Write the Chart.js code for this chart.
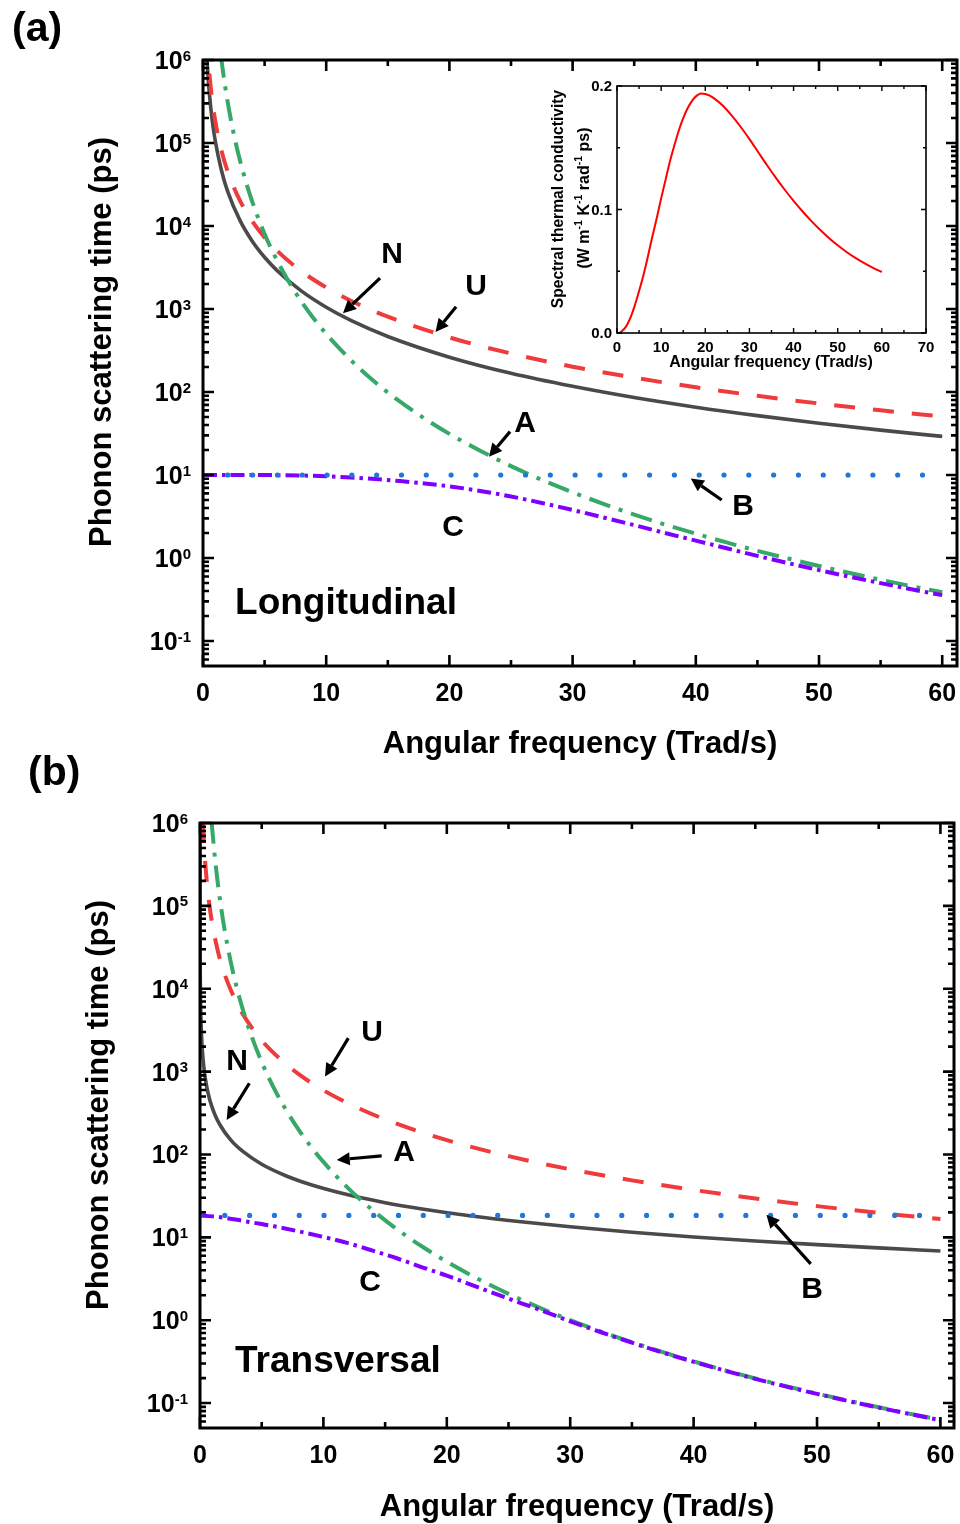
<!DOCTYPE html>
<html>
<head>
<meta charset="utf-8">
<script src="https://cdn.jsdelivr.net/npm/chart.js@4.4.1/dist/chart.umd.min.js"></script>
<style>
  html, body { margin: 0; padding: 0; background: #fff; }
  body { width: 960px; height: 1524px; position: relative; overflow: hidden; }
  canvas { position: absolute; }
  #longi { left: 0; top: 0; }
  #trans { left: 0; top: 740px; }
  #kappa { left: 530px; top: 70px; }
</style>
</head>
<body>
<canvas id="longi" width="960" height="770"></canvas>
<canvas id="trans" width="960" height="784"></canvas>
<canvas id="kappa" width="420" height="310"></canvas>
<script>
// ---- (a) longitudinal branch: scattering times (ps) vs angular frequency (Trad/s)
const wL = [0.3, 0.4, 0.5, 0.75, 1, 1.5, 2, 3, 4, 5, 6, 8, 10, 12, 15, 20, 25, 30, 35, 40, 45, 50, 55, 60];
const tauL_N = [1167000, 656000, 420000, 187000, 105000, 46700, 26200, 11700, 6560, 4200, 2920, 1640, 1050, 729, 467, 263, 168, 117, 85.7, 65.6, 51.9, 42.0, 34.7, 29.2];
const tauL_U = [2020000, 1140000, 728000, 324000, 182000, 80900, 45500, 20200, 11400, 7280, 5060, 2840, 1820, 1260, 809, 455, 291, 202, 149, 114, 89.9, 72.8, 60.2, 50.6];
const wL_A = [1.45, 1.5, 1.75, 2, 2.5, 3, 3.5, 4, 5, 6, 7, 8, 9, 10, 12, 14, 16, 18, 20, 22.5, 25, 27.5, 30, 32.5, 35, 37.5, 40, 42.5, 45, 47.5, 50, 52.5, 55, 57.5, 60];
const tauL_A = [1130000, 990000, 534000, 313000, 128000, 61800, 33400, 19600, 8020, 3870, 2090, 1220, 764, 501, 242, 130, 76.4, 47.7, 31.3, 19.6, 12.8, 8.76, 6.19, 4.49, 3.34, 2.53, 1.96, 1.54, 1.22, 0.986, 0.802, 0.660, 0.547, 0.458, 0.387];
const wL_B = [0, 60];
const tauL_B = [10, 10];
const wL_C = [0, 4, 8, 10, 12, 14, 16, 18, 20, 22.5, 25, 27.5, 30, 32.5, 35, 37.5, 40, 42.5, 45, 47.5, 50, 52.5, 55, 57.5, 60];
const tauL_C = [10, 10, 9.85, 9.65, 9.35, 8.95, 8.45, 7.9, 7.3, 6.43, 5.51, 4.61, 3.79, 3.08, 2.49, 2.0, 1.62, 1.31, 1.06, 0.868, 0.715, 0.595, 0.498, 0.42, 0.357];

// ---- (b) transversal branch
const wT_N = [0.0002, 0.001, 0.005, 0.02, 0.05, 0.1, 0.15, 0.2, 0.3, 0.5, 0.8, 1.2, 1.6, 2.5, 3.5, 5, 7, 9, 12, 15, 18, 22, 26, 30, 35, 40, 45, 50, 55, 60];
const tauT_N = [1400000, 295000, 62000, 16100, 6640, 3390, 2290, 1730, 1170, 711, 451, 304, 230, 149, 108, 76.2, 55.0, 43.1, 32.6, 26.2, 22.0, 18.1, 15.4, 13.4, 11.5, 10.1, 9.04, 8.16, 7.45, 6.84];
const wT_U = [0.24, 0.35, 0.5, 0.75, 1, 1.5, 2, 3, 4, 5, 6, 8, 10, 12, 15, 20, 25, 30, 35, 40, 45, 50, 55, 60];
const tauT_U = [1030000, 487000, 238000, 106000, 59600, 26500, 14900, 6620, 3730, 2380, 1660, 931, 596, 414, 265, 149, 95.4, 66.2, 48.7, 37.3, 29.4, 23.8, 19.7, 16.6];
const wT_A = [0.94, 1, 1.25, 1.5, 1.75, 2, 2.5, 3, 3.5, 4, 5, 6, 7, 8, 9, 10, 12, 14, 16, 18, 20, 22.5, 25, 27.5, 30, 32.5, 35, 37.5, 40, 42.5, 45, 47.5, 50, 52.5, 55, 57.5, 60];
const tauT_A = [1040000, 813000, 333000, 161000, 86700, 50800, 20800, 10000, 5420, 3180, 1300, 627, 339, 198, 124, 81.3, 39.2, 21.2, 12.4, 7.74, 5.08, 3.17, 2.08, 1.42, 1.0, 0.728, 0.542, 0.411, 0.318, 0.249, 0.198, 0.160, 0.130, 0.107, 0.0888, 0.0743, 0.0627];
const wT_B = [0, 60];
const tauT_B = [18.4, 18.4];
const wT_C = [0, 1, 2, 3, 4, 5, 6, 8, 10, 12, 14, 16, 18, 20, 22.5, 25, 27.5, 30, 32.5, 35, 37.5, 40, 42.5, 45, 47.5, 50, 52.5, 55, 57.5, 60];
const tauT_C = [18.4, 17.9, 17.2, 16.3, 15.3, 14.45, 13.6, 11.8, 10.1, 8.5, 6.9, 5.55, 4.35, 3.45, 2.5, 1.82, 1.34, 0.97, 0.715, 0.535, 0.407, 0.315, 0.247, 0.196, 0.158, 0.129, 0.106, 0.088, 0.074, 0.062];

// ---- inset: spectral thermal conductivity
const wK = [0.6, 2, 3, 4, 5, 6, 7, 8, 9, 10, 11, 12, 13, 14, 15, 16, 17, 18, 19, 20, 21, 22, 24, 26, 28, 30, 32, 34, 36, 38, 40, 42, 44, 46, 48, 50, 52, 54, 56, 58, 60];
const kappa = [0, 0.005, 0.012, 0.022, 0.034, 0.047, 0.062, 0.078, 0.093, 0.109, 0.124, 0.139, 0.152, 0.164, 0.174, 0.182, 0.188, 0.192, 0.194, 0.1935, 0.1922, 0.1900, 0.1840, 0.1760, 0.1670, 0.157, 0.1464, 0.1358, 0.1256, 0.1160, 0.1070, 0.0986, 0.0908, 0.0836, 0.0770, 0.0710, 0.0656, 0.0608, 0.0566, 0.0528, 0.0494];

// tick values
const freqTicks = [0, 10, 20, 30, 40, 50, 60];
const decades = [-1, 0, 1, 2, 3, 4, 5, 6];
const insetFreqTicks = [0, 10, 20, 30, 40, 50, 60, 70];
const insetKTicks = [0, 0.1, 0.2];
const insetKLabels = ['0.0', '0.1', '0.2'];

const FONT = "'Liberation Sans', Arial, Helvetica, sans-serif";
const COL = { N: '#4a4a4a', U: '#ef3b3b', A: '#36a968', B: '#1f77dd', C: '#7f00ff' };

function series(xs, ys, color, width, dash, cap) {
  return {
    data: xs.map((x, i) => ({ x: x, y: ys[i] })),
    borderColor: color,
    borderWidth: width,
    borderDash: dash,
    borderCapStyle: cap || 'butt',
    borderJoinStyle: 'round',
    pointRadius: 0,
    fill: false,
    cubicInterpolationMode: 'monotone',
    clip: 0
  };
}

// text with superscript parts, centred on (cx, cy)
function richText(ctx, parts, size, cx, cy, rot) {
  ctx.save();
  ctx.translate(cx, cy);
  if (rot) ctx.rotate(rot);
  const sup = size * 0.66;
  let total = 0;
  const ws = parts.map(p => {
    ctx.font = 'bold ' + (p.sup ? sup : size) + 'px ' + FONT;
    const w = ctx.measureText(p.t).width;
    total += w;
    return w;
  });
  let x = -total / 2;
  const base = size * 0.36;
  ctx.textAlign = 'left';
  ctx.textBaseline = 'alphabetic';
  parts.forEach((p, i) => {
    ctx.font = 'bold ' + (p.sup ? sup : size) + 'px ' + FONT;
    ctx.fillText(p.t, x, p.sup ? base - size * 0.4 : base);
    x += ws[i];
  });
  ctx.restore();
}

function arrow(ctx, x1, y1, x2, y2) {
  const ang = Math.atan2(y2 - y1, x2 - x1);
  const head = 13, half = 6.5;
  const bx = x2 - head * Math.cos(ang), by = y2 - head * Math.sin(ang);
  ctx.lineWidth = 3.2;
  ctx.beginPath();
  ctx.moveTo(x1, y1);
  ctx.lineTo(bx, by);
  ctx.stroke();
  ctx.beginPath();
  ctx.moveTo(x2, y2);
  ctx.lineTo(bx + half * Math.sin(ang), by - half * Math.cos(ang));
  ctx.lineTo(bx - half * Math.sin(ang), by + half * Math.cos(ang));
  ctx.closePath();
  ctx.fill();
}

// frame, inward ticks on four sides, tick labels, titles and annotations
const decor = {
  id: 'decor',
  beforeDatasetsDraw(chart, args, o) {
    if (!o.fill) return;
    const a = chart.chartArea;
    chart.ctx.save();
    chart.ctx.fillStyle = o.fill;
    chart.ctx.fillRect(a.left, a.top, a.right - a.left, a.bottom - a.top);
    chart.ctx.restore();
  },
  afterDatasetsDraw(chart, args, o) {
    const ctx = chart.ctx, a = chart.chartArea, sx = chart.scales.x, sy = chart.scales.y;
    ctx.save();
    ctx.strokeStyle = '#000';
    ctx.fillStyle = '#000';
    ctx.lineCap = 'butt';
    ctx.lineWidth = o.tickWidth;

    const xt = (v, len) => {
      const p = sx.getPixelForValue(v);
      ctx.beginPath();
      ctx.moveTo(p, a.bottom); ctx.lineTo(p, a.bottom - len);
      ctx.moveTo(p, a.top); ctx.lineTo(p, a.top + len);
      ctx.stroke();
    };
    const yt = (v, len) => {
      const p = sy.getPixelForValue(v);
      ctx.beginPath();
      ctx.moveTo(a.left, p); ctx.lineTo(a.left + len, p);
      ctx.moveTo(a.right, p); ctx.lineTo(a.right - len, p);
      ctx.stroke();
    };

    o.xMajor.forEach(v => xt(v, o.major));
    for (let i = 0; i + 1 < o.xMajor.length; i++) xt((o.xMajor[i] + o.xMajor[i + 1]) / 2, o.minor);

    if (o.log) {
      o.yMajor.forEach(k => yt(Math.pow(10, k), o.major));
      for (let k = o.yMajor[0] - 1; k < o.yMajor[o.yMajor.length - 1]; k++) {
        for (let m = 2; m <= 9; m++) {
          const v = m * Math.pow(10, k);
          if (v > sy.min && v < sy.max) yt(v, o.minor);
        }
      }
    } else {
      o.yMajor.forEach(v => yt(v, o.major));
      for (let i = 0; i + 1 < o.yMajor.length; i++) yt((o.yMajor[i] + o.yMajor[i + 1]) / 2, o.minor);
    }

    ctx.lineWidth = o.frameWidth;
    ctx.strokeRect(a.left, a.top, a.right - a.left, a.bottom - a.top);

    // x tick labels
    ctx.font = 'bold ' + o.tickSize + 'px ' + FONT;
    ctx.textAlign = 'center';
    ctx.textBaseline = 'alphabetic';
    o.xMajor.forEach(v => ctx.fillText(String(v), sx.getPixelForValue(v), a.bottom + o.xLabelDy));

    // y tick labels
    const xr = a.left - o.yLabelGap;
    o.yMajor.forEach((v, i) => {
      if (o.log) {
        const p = sy.getPixelForValue(Math.pow(10, v));
        const exp = String(v);
        ctx.font = 'bold ' + o.supSize + 'px ' + FONT;
        const we = ctx.measureText(exp).width;
        ctx.textAlign = 'left';
        ctx.fillText(exp, xr - we, p + 0.5);
        ctx.font = 'bold ' + o.tickSize + 'px ' + FONT;
        const wb = ctx.measureText('10').width;
        ctx.fillText('10', xr - we - wb, p + o.tickSize * 0.36);
      } else {
        const p = sy.getPixelForValue(v);
        ctx.font = 'bold ' + o.tickSize + 'px ' + FONT;
        ctx.textAlign = 'right';
        ctx.fillText(o.yLabels[i], xr, p + o.tickSize * 0.36);
      }
    });

    // axis titles and panel label
    (o.titles || []).forEach(t => richText(ctx, t.parts, t.size, t.x, t.y, t.rot));
    (o.plain || []).forEach(t => {
      ctx.font = 'bold ' + t.size + 'px ' + FONT;
      ctx.textAlign = 'left';
      ctx.textBaseline = 'alphabetic';
      ctx.fillText(t.text, t.x, t.y);
    });

    // curve annotations, placed in data coordinates
    (o.arrows || []).forEach(r => arrow(ctx,
      sx.getPixelForValue(r.from[0]), sy.getPixelForValue(r.from[1]),
      sx.getPixelForValue(r.to[0]), sy.getPixelForValue(r.to[1])));
    (o.letters || []).forEach(t => {
      ctx.font = 'bold ' + t.size + 'px ' + FONT;
      ctx.textAlign = t.align || 'center';
      ctx.textBaseline = t.align ? 'alphabetic' : 'middle';
      ctx.fillText(t.text, sx.getPixelForValue(t.at[0]), sy.getPixelForValue(t.at[1]));
    });
    ctx.restore();
  }
};

function panel(canvasId, pad, xmax, datasets, d) {
  return new Chart(document.getElementById(canvasId), {
    type: 'line',
    data: { datasets: datasets },
    options: {
      responsive: false,
      animation: false,
      devicePixelRatio: 1,
      events: [],
      layout: { padding: pad },
      plugins: { legend: { display: false }, tooltip: { enabled: false }, decor: d },
      scales: {
        x: { type: 'linear', min: 0, max: xmax, display: false },
        y: { type: 'logarithmic', min: 0.05, max: 1e6, display: false }
      }
    },
    plugins: [decor]
  });
}

const mainAxes = {
  frameWidth: 3, tickWidth: 2.6, major: 11, minor: 6,
  xMajor: freqTicks, yMajor: decades, log: true,
  tickSize: 25, supSize: 15, xLabelDy: 35, yLabelGap: 12
};
const yTitle = [{ t: 'Phonon scattering time (ps)' }];
const xTitle = [{ t: 'Angular frequency (Trad/s)' }];

// (a) Longitudinal
panel('longi', { left: 203, top: 60, right: 3, bottom: 104 }, 61.2, [
  series(wL_B, tauL_B, COL.B, 5.2, [0.01, 24.8], 'round'),
  series(wL_C, tauL_C, COL.C, 4, [14, 5, 3.5, 5]),
  series(wL_A, tauL_A, COL.A, 4, [22, 9, 4, 9]),
  series(wL, tauL_U, COL.U, 4, [21, 18]),
  series(wL, tauL_N, COL.N, 3.6, [])
], Object.assign({}, mainAxes, {
  titles: [
    { parts: yTitle, size: 31, x: 100, y: 342, rot: -Math.PI / 2 },
    { parts: xTitle, size: 31, x: 580, y: 742 }
  ],
  plain: [{ text: '(a)', size: 41, x: 12, y: 41 }],
  arrows: [
    { from: [14.37, 2360], to: [11.36, 887] },
    { from: [20.54, 1067], to: [18.87, 528] },
    { from: [24.92, 33.3], to: [23.21, 16.6] },
    { from: [42.1, 5.0], to: [39.59, 9.1] }
  ],
  letters: [
    { text: 'N', at: [15.34, 4470], size: 30 },
    { text: 'U', at: [22.16, 1840], size: 30 },
    { text: 'A', at: [26.14, 41], size: 30 },
    { text: 'B', at: [43.83, 4.1], size: 30 },
    { text: 'C', at: [20.29, 2.3], size: 30 },
    { text: 'Longitudinal', at: [2.6, 0.211], size: 37, align: 'left' }
  ]
}));

// (b) Transversal
panel('trans', { left: 200, top: 83, right: 6, bottom: 96 }, 61.1, [
  series(wT_B, tauT_B, COL.B, 5.2, [0.01, 24.8], 'round'),
  series(wT_C, tauT_C, COL.C, 4, [14, 5, 3.5, 5]),
  series(wT_A, tauT_A, COL.A, 4, [22, 9, 4, 9]),
  series(wT_U, tauT_U, COL.U, 4, [21, 18]),
  series(wT_N, tauT_N, COL.N, 3.6, [])
], Object.assign({}, mainAxes, {
  titles: [
    { parts: yTitle, size: 31, x: 97, y: 365, rot: -Math.PI / 2 },
    { parts: xTitle, size: 31, x: 577, y: 765 }
  ],
  plain: [{ text: '(b)', size: 41, x: 28, y: 44.5 }],
  arrows: [
    { from: [12.02, 2530], to: [10.13, 871] },
    { from: [4.0, 724], to: [2.16, 261] },
    { from: [14.72, 96], to: [11.08, 86] },
    { from: [49.49, 4.79], to: [45.9, 18.7] }
  ],
  letters: [
    { text: 'U', at: [13.94, 2930], size: 30 },
    { text: 'N', at: [3.0, 1310], size: 30 },
    { text: 'A', at: [16.53, 104], size: 30 },
    { text: 'C', at: [13.78, 2.83], size: 30 },
    { text: 'B', at: [49.6, 2.33], size: 30 },
    { text: 'Transversal', at: [2.84, 0.239], size: 37, align: 'left' }
  ]
}));

// inset: spectral thermal conductivity
new Chart(document.getElementById('kappa'), {
  type: 'line',
  data: { datasets: [series(wK, kappa, '#ff0000', 2, [])] },
  options: {
    responsive: false,
    animation: false,
    devicePixelRatio: 1,
    events: [],
    layout: { padding: { left: 87, top: 16, right: 24, bottom: 47 } },
    plugins: {
      legend: { display: false },
      tooltip: { enabled: false },
      decor: {
        fill: '#fff',
        frameWidth: 1.6, tickWidth: 1.4, major: 5, minor: 3,
        xMajor: insetFreqTicks, yMajor: insetKTicks, yLabels: insetKLabels, log: false,
        tickSize: 15, xLabelDy: 19, yLabelGap: 5,
        titles: [
          { parts: [{ t: 'Spectral thermal conductivity' }], size: 15.6, x: 27.5, y: 129, rot: -Math.PI / 2 },
          { parts: [{ t: '(W m' }, { t: '-1', sup: true }, { t: ' K' }, { t: '-1', sup: true }, { t: ' rad' }, { t: '-1', sup: true }, { t: ' ps)' }], size: 16, x: 53, y: 128, rot: -Math.PI / 2 },
          { parts: [{ t: 'Angular frequency (Trad/s)' }], size: 16, x: 241, y: 291 }
        ]
      }
    },
    scales: {
      x: { type: 'linear', min: 0, max: 70, display: false },
      y: { type: 'linear', min: 0, max: 0.2, display: false }
    }
  },
  plugins: [decor]
});
</script>
</body>
</html>
